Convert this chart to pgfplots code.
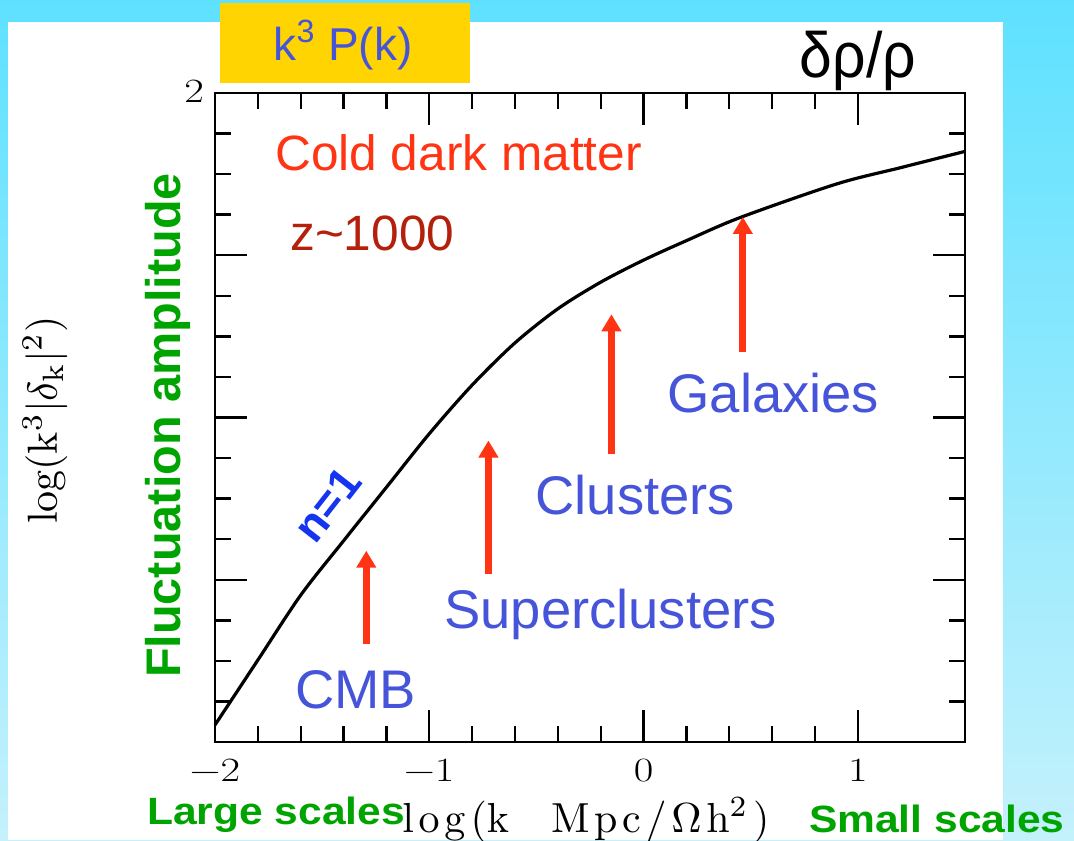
\documentclass[border=0pt]{standalone}
\usepackage[no-math]{fontspec}
\usepackage{pgfplots}
\usepackage{pgfplotstable}
\pgfplotsset{compat=1.18}
\usetikzlibrary{arrows.meta}

\newfontfamily\arial{Liberation Sans}
\newcommand{\fs}[1]{\fontsize{#1}{#1}\selectfont}
\newcommand{\wide}[1]{\scalebox{1.25}[1]{#1}}

\definecolor{bgtop}{HTML}{5EE1FF}
\definecolor{bgbot}{HTML}{C4F1FC}
\definecolor{gold}{HTML}{FFD400}
\definecolor{labelblue}{HTML}{4654DA}
\definecolor{nblue}{HTML}{1434F0}
\definecolor{hotred}{HTML}{FF3414}
\definecolor{darkred}{HTML}{B4200C}
\definecolor{scalegreen}{HTML}{00A400}

% CDM fluctuation spectrum at z ~ 1000
\pgfplotstableread{
x       y
-2.000  -1.895
-1.800  -1.495
-1.600  -1.095
-1.400  -0.760
-1.200  -0.430
-1.000  -0.100
-0.800   0.200
-0.600   0.460
-0.400   0.670
-0.200   0.834
 0.000   0.970
 0.200   1.090
 0.450   1.232
 0.900   1.439
 1.200   1.540
 1.500   1.640
}\spectrum

\begin{document}
\begin{tikzpicture}
\useasboundingbox (0,0) rectangle (537pt,420pt);
\shade[top color=bgtop, bottom color=bgbot] (0,0) rectangle (537pt,420pt);
\fill[white] (4pt,0) rectangle (501.5pt,409pt);
\fill[gold] (110pt,378.5pt) rectangle (235pt,418.5pt);
\node[font=\arial\fs{23}, text=labelblue] at (171.5pt,397.5pt) {k\textsuperscript{3} P(k)};
\node[font=\arial\fs{32}, anchor=base] at (429pt,381pt) {\scalebox{0.92}[1]{δρ/ρ}};

\begin{axis}[
  at={(107.5pt,49pt)}, anchor=south west,
  scale only axis, width=375pt, height=324.5pt,
  xmin=-2, xmax=1.5, ymin=-2, ymax=2,
  clip=false,
  axis line style={line width=1.4pt},
  every tick/.style={black, line width=1.2pt},
  tick align=inside, tick pos=both,
  major tick length=16pt, minor tick length=8pt,
  xtick={-2,-1,0,1},
  xticklabels={\wide{\textminus2},\wide{\textminus1},\wide{0},\wide{1}},
  minor x tick num=4,
  ytick={-2,-1,0,1,2}, yticklabels={,,,,\wide{2}},
  minor y tick num=3,
  tick label style={font=\rmfamily\fs{17}},
  xticklabel style={yshift=-5pt},
  yticklabel style={xshift=-2pt, yshift=1pt},
]
\addplot[black, line width=1.6pt, smooth] table {\spectrum};

% scales marked on the spectrum
\addplot[hotred, line width=3.3pt, -{Triangle[width=9.5pt,length=8.5pt]}]
  coordinates {(-1.294,-1.395) (-1.294,-0.821)};
\addplot[hotred, line width=3.3pt, -{Triangle[width=9.5pt,length=8.5pt]}]
  coordinates {(-0.724,-0.963) (-0.724,-0.142)};
\addplot[hotred, line width=3.3pt, -{Triangle[width=9.5pt,length=8.5pt]}]
  coordinates {(-0.150,-0.228) (-0.150,0.636)};
\addplot[hotred, line width=3.3pt, -{Triangle[width=9.5pt,length=8.5pt]}]
  coordinates {(0.463,0.401) (0.463,1.236)};

\node[anchor=base west, font=\arial\fs{24.8}, text=hotred] at (axis cs:-1.752,1.525) {Cold dark matter};
\node[anchor=base west, font=\arial\fs{24.8}, text=darkred] at (axis cs:-1.682,1.031) {z\textasciitilde1000};
\node[anchor=base west, font=\arial\fs{27.2}, text=labelblue] at (axis cs:0.079,0.031) {Galaxies};
\node[anchor=base west, font=\arial\fs{27.2}, text=labelblue] at (axis cs:-0.537,-0.599) {Clusters};
\node[anchor=base west, font=\arial\fs{27.2}, text=labelblue] at (axis cs:-0.963,-1.302) {Superclusters};
\node[anchor=base west, font=\arial\fs{27.2}, text=labelblue] at (axis cs:-1.659,-1.796) {CMB};
\node[rotate=52, font=\arial\bfseries\fs{22.5}, text=nblue, inner sep=0pt] at (axis cs:-1.477,-0.536) {n=1};
\end{axis}

\node[rotate=90] at (22.5pt,210pt) {\scalebox{2.1}{$\mathrm{log(k^3|\delta_k|^2)}$}};
\node[rotate=90, anchor=base west, font=\arial\bfseries\fs{24.3}, text=scalegreen] at (90pt,77.5pt) {Fluctuation amplitude};
\node[anchor=base west, inner sep=0pt] at (201pt,4pt) {\scalebox{2.1}{$\mathrm{l\mkern2mu o\mkern2mu g\mkern2mu(k\quad M\mkern2mu p\mkern2mu c\mkern2mu/\mkern2mu\Omega\mkern2mu h^2\mkern2mu)}$}};
\node[anchor=base west, font=\arial\bfseries\fs{19}, text=scalegreen] at (70pt,8pt) {\scalebox{1.12}[1]{Large scales}};
\node[anchor=base west, font=\arial\bfseries\fs{19}, text=scalegreen] at (401pt,4pt) {\scalebox{1.12}[1]{Small scales}};
\end{tikzpicture}
\end{document}
